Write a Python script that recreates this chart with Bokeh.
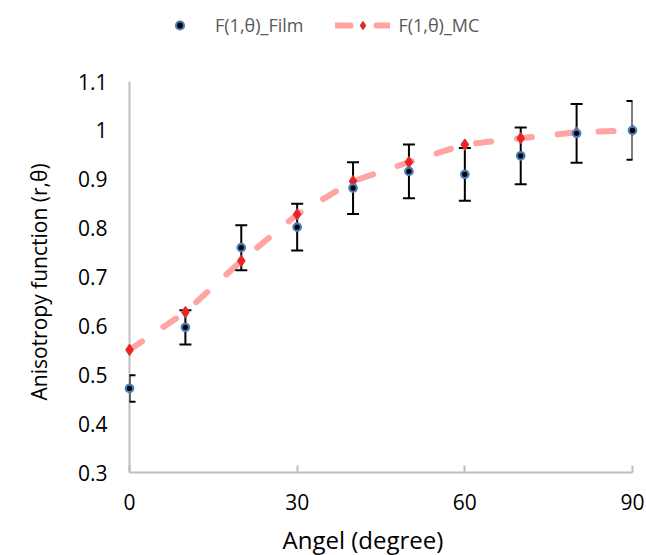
import numpy as np
from bokeh.plotting import figure
from bokeh.models import (Range1d, FixedTicker, Whisker, TeeHead, ColumnDataSource,
                          Legend, LegendItem, Title)
from bokeh.embed import file_html
from bokeh.resources import INLINE

# ---- data ----
angles = [0, 10, 20, 30, 40, 50, 60, 70, 80, 90]
film = [0.472, 0.597, 0.760, 0.802, 0.882, 0.916, 0.910, 0.948, 0.994, 1.000]
film_err = [0.027, 0.035, 0.046, 0.048, 0.053, 0.055, 0.054, 0.058, 0.060, 0.060]
mc = [0.551, 0.628, 0.733, 0.828, 0.896, 0.935, 0.971, 0.984, 0.996, 1.000]
x_ticks = [0, 30, 60, 90]
y_ticks = [0.3, 0.4, 0.5, 0.6, 0.7, 0.8, 0.9, 1.0, 1.1]
y_tick_labels = ["0.3", "0.4", "0.5", "0.6", "0.7", "0.8", "0.9", "1", "1.1"]
series_names = ["F(1,\u03b8)_Film", "F(1,\u03b8)_MC"]
x_title = "Angel (degree)"
y_title = "Anisotropy function (r,\u03b8)"

FONT = "Open Sans"

# frame spans the full top area so the legend (inside the frame) is not clipped;
# the y axis itself is bounded to 0.3..1.1
Y_MIN, Y_AXIS_MAX = 0.3, 1.1
FRAME_H, AXIS_PX = 472, 391
y_top = Y_MIN + (Y_AXIS_MAX - Y_MIN) * FRAME_H / AXIS_PX

p = figure(frame_width=503, frame_height=FRAME_H,
           min_border_left=129, min_border_right=14,
           min_border_top=0, min_border_bottom=83,
           x_range=Range1d(0, 90), y_range=Range1d(Y_MIN, y_top),
           output_backend="svg", toolbar_location=None,
           background_fill_color="white", border_fill_color="white")
p.outline_line_color = None
p.xgrid.visible = False
p.ygrid.visible = False

# axes
for ax in (p.xaxis[0], p.yaxis[0]):
    ax.axis_line_color = "#bfbfbf"
    ax.axis_line_width = 2
    ax.minor_tick_line_color = None
    ax.major_label_text_font = FONT
    ax.major_label_text_font_size = "21px"
    ax.major_label_text_color = "#000000"

p.xaxis.ticker = FixedTicker(ticks=x_ticks)
p.xaxis.major_tick_in = 7
p.xaxis.major_tick_out = 0
p.xaxis.major_tick_line_color = "#bfbfbf"
p.xaxis.major_tick_line_width = 2
p.xaxis.major_label_standoff = 21

p.yaxis.ticker = FixedTicker(ticks=y_ticks)
p.yaxis.bounds = (Y_MIN, Y_AXIS_MAX)
p.yaxis.major_label_overrides = {t: l for t, l in zip(y_ticks, y_tick_labels)}
p.yaxis.major_tick_in = 0
p.yaxis.major_tick_out = 0
p.yaxis.major_label_standoff = 22

# axis titles (offset like the reference)
xt = Title(text=x_title, align="left", offset=153, standoff=17,
           text_font=FONT, text_font_size="24px", text_font_style="normal",
           text_color="#000000")
p.add_layout(xt, "below")
yt = Title(text=y_title, align="left", offset=72, standoff=43,
           text_font=FONT, text_font_size="21px", text_font_style="normal",
           text_color="#000000")
p.add_layout(yt, "left")

# error bars
film_arr = np.array(film)
err_arr = np.array(film_err)
src = ColumnDataSource(dict(x=angles, y=film, mc=mc,
                            upper=film_arr + err_arr, lower=film_arr - err_arr))
wh = Whisker(source=src, base="x", upper="upper", lower="lower", dimension="height",
             line_color="black", line_width=2,
             upper_head=TeeHead(size=12, line_color="black", line_width=2),
             lower_head=TeeHead(size=12, line_color="black", line_width=2),
             level="annotation")
p.add_layout(wh)

# MC dashed line + diamonds
mc_line = p.line("x", "mc", source=src, line_color="#ffa3a3", line_width=6,
                 line_dash="15 26", line_cap="round", line_join="round")
mc_pts = p.scatter("x", "mc", source=src, marker="diamond", size=11,
                   fill_color="#ff1a1a", line_color="#c83a3a", line_width=1.2)
mc_pts.level = "overlay"

# Film points
film_pts = p.scatter("x", "y", source=src, marker="circle", size=7.5,
                     fill_color="black", line_color="#4a7ebb", line_width=2.2)
film_pts.level = "overlay"

legend = Legend(items=[LegendItem(label=series_names[0], renderers=[film_pts]),
                       LegendItem(label=series_names[1], renderers=[mc_line, mc_pts])],
                orientation="horizontal", location=(23, 435),
                glyph_width=55, glyph_height=20, label_standoff=8, spacing=32,
                padding=10, border_line_color=None, background_fill_alpha=0,
                label_text_font=FONT, label_text_font_size="18px",
                label_text_color="#595959")
p.add_layout(legend, "center")

open("out.html", "w").write(file_html(p, INLINE))
